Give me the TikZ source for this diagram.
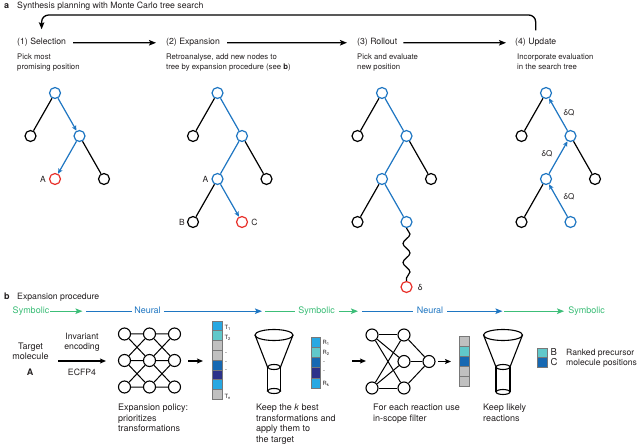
\documentclass[tikz,border=0pt]{standalone}
\usepackage{fontspec}
\setmainfont{TeX Gyre Heros}
\usetikzlibrary{arrows.meta,decorations.pathmorphing}
\definecolor{tblue}{RGB}{30,118,194}
\definecolor{tred}{RGB}{232,48,42}
\definecolor{sgreen}{RGB}{60,190,120}
\definecolor{cyanb}{RGB}{40,168,226}
\definecolor{tealb}{RGB}{96,200,202}
\definecolor{blueb}{RGB}{22,104,178}
\definecolor{navyb}{RGB}{44,50,138}
\definecolor{grayb}{RGB}{192,192,192}
\definecolor{barline}{RGB}{120,120,120}
\definecolor{ink}{RGB}{35,31,32}
\begin{document}
\begin{tikzpicture}[x=1pt,y=-1pt,
  every node/.style={inner sep=0pt,text=ink},
  tn/.style={circle,draw=black,line width=1.2pt,minimum size=11pt,inner sep=0pt},
  tbn/.style={tn,draw=tblue},
  trn/.style={tn,draw=tred},
  ek/.style={draw=black,line width=1.2pt},
  eB/.style={draw=tblue,line width=1.2pt},
  arrtip/.style={-{Stealth[length=5pt,width=4.5pt,inset=1pt]}},
  bigtip/.style={-{Stealth[length=7pt,width=5.5pt,inset=1.5pt]}},
  hd/.style={anchor=base west,font=\fontsize{8.7}{10}\selectfont},
  subt/.style={anchor=north west,align=left,font=\fontsize{7.75}{9.8}\selectfont},
  lab/.style={font=\fontsize{8.5}{10}\selectfont},
  dq/.style={font=\fontsize{8}{10}\selectfont},
  rowt/.style={anchor=base,font=\fontsize{9}{10}\selectfont,text height=6.5pt,text depth=1.9pt},
  gline/.style={draw=sgreen,line width=1.2pt},
  bline/.style={draw=tblue,line width=1.2pt},
  nn/.style={circle,draw=black,line width=1.1pt,minimum size=12pt,inner sep=0pt},
  nl/.style={draw=black,line width=1pt},
  captxt/.style={anchor=north west,align=left,font=\fontsize{9}{10.5}\selectfont},
  cellbox/.style={draw=barline,line width=0.5pt},
  smalllab/.style={anchor=west,font=\fontsize{5.8}{6}\selectfont},
  funl/.style={draw=black,line width=1.1pt},
  sarr/.style={draw=black,line width=1.2pt,-{Stealth[length=6pt,width=5pt,inset=1.2pt]}}
]
\useasboundingbox[fill=white] (0,0) rectangle (640,446);

% ---------- panel a ----------
\node[anchor=base west,font=\bfseries\fontsize{9}{10}\selectfont] (pa) at (4,9) {a};
\node[anchor=base west,font=\fontsize{8.7}{10}\selectfont] (ta) at (17,9) {Synthesis planning with Monte Carlo tree search};

\node[hd] (h1) at (17,45) {(1) Selection};
\node[hd] (h2) at (166,45) {(2) Expansion};
\node[hd] (h3) at (357,45) {(3) Rollout};
\node[hd] (h4) at (515,45) {(4) Update};
\draw[line width=1.3pt,bigtip,shorten <=7pt,shorten >=10pt] (h1.east) -- (h2.west);
\draw[line width=1.3pt,bigtip,shorten <=7pt,shorten >=10pt] (h2.east) -- (h3.west);
\draw[line width=1.3pt,bigtip,shorten <=6pt,shorten >=9pt] (h3.east) -- (h4.west);
\coordinate (fbR) at ([yshift=8pt]h4.north);
\coordinate (fbL) at ([yshift=9pt]h1.north);
\draw[line width=1.3pt,bigtip,rounded corners=7pt] (fbR) -- (fbR |- 0,15) -- (fbL |- 0,15) -- (fbL);

\node[subt] (s1t) at (17,54) {Pick most\\promising position};
\node[subt] (s2t) at (166,54) {Retroanalyse, add new nodes to\\tree by expansion procedure (see \textbf{b})};
\node[subt] (s3t) at (357,54) {Pick and evaluate\\new position};
\node[subt] (s4t) at (517,54) {Incorporate evaluation\\in the search tree};

% tree 1
\node[tbn] (t1r) at (55,93) {};
\node[tn] (t1l) at (30.5,136) {};
\node[tbn] (t1m) at (79.5,136) {};
\node[trn] (t1a) at (55,179) {};
\node[tn] (t1x) at (104,179) {};
\draw[ek] (t1r) -- (t1l);
\draw[eB,arrtip] (t1r) -- (t1m);
\draw[eB,arrtip] (t1m) -- (t1a);
\draw[ek] (t1m) -- (t1x);
\node[lab,anchor=east] (l1a) at ([xshift=-3pt]t1a.west) {A};

% tree 2
\node[tbn] (t2r) at (217.5,93) {};
\node[tn] (t2l) at (193,136) {};
\node[tbn] (t2m) at (242,136) {};
\node[tbn] (t2a) at (217.5,179) {};
\node[tn] (t2x) at (266.5,179) {};
\node[tn] (t2b) at (193,222) {};
\node[trn] (t2c) at (242,222) {};
\draw[ek] (t2r) -- (t2l);
\draw[eB] (t2r) -- (t2m);
\draw[eB] (t2m) -- (t2a);
\draw[ek] (t2m) -- (t2x);
\draw[ek] (t2a) -- (t2b);
\draw[eB,arrtip] (t2a) -- (t2c);
\node[lab,anchor=east] (l2a) at ([xshift=-3pt]t2a.west) {A};
\node[lab,anchor=east] (l2b) at ([xshift=-2pt]t2b.west) {B};
\node[lab,anchor=west] (l2c) at ([xshift=3pt]t2c.east) {C};

% tree 3
\node[tbn] (t3r) at (382,93) {};
\node[tn] (t3l) at (357.5,136) {};
\node[tbn] (t3m) at (406.5,136) {};
\node[tbn] (t3a) at (382,179) {};
\node[tn] (t3x) at (431,179) {};
\node[tn] (t3b) at (357.5,222) {};
\node[tbn] (t3c) at (406.5,222) {};
\node[trn] (t3d) at (406.5,287) {};
\draw[ek] (t3r) -- (t3l);
\draw[eB] (t3r) -- (t3m);
\draw[eB] (t3m) -- (t3a);
\draw[ek] (t3m) -- (t3x);
\draw[ek] (t3a) -- (t3b);
\draw[eB] (t3a) -- (t3c);
\draw[ek,decorate,decoration={snake,amplitude=3.5pt,segment length=19pt}] (t3c.south) -- (t3d.north);
\node[lab,anchor=west] (l3d) at ([xshift=5pt]t3d.east) {δ};

% tree 4
\node[tbn] (t4r) at (546,93) {};
\node[tn] (t4l) at (521.5,136) {};
\node[tbn] (t4m) at (570.5,136) {};
\node[tbn] (t4a) at (546,179) {};
\node[tn] (t4x) at (595,179) {};
\node[tn] (t4b) at (521.5,222) {};
\node[tbn] (t4c) at (570.5,222) {};
\draw[ek] (t4r) -- (t4l);
\draw[eB,arrtip] (t4m) -- (t4r);
\draw[eB,arrtip] (t4a) -- (t4m);
\draw[ek] (t4m) -- (t4x);
\draw[ek] (t4a) -- (t4b);
\draw[eB,arrtip] (t4c) -- (t4a);
\node[dq] (q1) at (569,113) {δQ};
\node[dq] (q2) at (547,154) {δQ};
\node[dq] (q3) at (569,197) {δQ};

% ---------- panel b ----------
\node[anchor=base west,font=\bfseries\fontsize{9}{10}\selectfont] (pb) at (4,300) {b};
\node[anchor=base west,font=\fontsize{8.7}{10}\selectfont] (tpb) at (17,300) {Expansion procedure};

\node[rowt,text=sgreen] (r1) at (31,313.5) {Symbolic};
\node[rowt,text=tblue] (r2) at (147.5,313.5) {Neural};
\node[rowt,text=sgreen] (r3) at (316.5,313.5) {Symbolic};
\node[rowt,text=tblue] (r4) at (430,313.5) {Neural};
\node[rowt,text=sgreen] (r5) at (586.5,313.5) {Symbolic};
\draw[gline,bigtip] ([xshift=1pt]r1.east) -- ++(32,0) coordinate (g1);
\draw[bline] ([xshift=4pt]g1) -- ([xshift=-2pt]r2.west);
\draw[bline,bigtip] ([xshift=3pt]r2.east) -- ++(98,0) coordinate (g2);
\draw[gline] ([xshift=3pt]g2) -- ([xshift=-3pt]r3.west);
\draw[gline,bigtip] ([xshift=4pt]r3.east) -- ++(19,0) coordinate (g3);
\draw[bline] ([xshift=4pt]g3) -- ([xshift=-4pt]r4.west);
\draw[bline,bigtip] ([xshift=4pt]r4.east) -- ++(55,0) coordinate (g4);
\draw[gline,bigtip] ([xshift=2pt]g4) -- ([xshift=-4pt]r5.west);

% target molecule
\node[align=center,font=\fontsize{9}{10.5}\selectfont] (tm) at (30.5,351.5) {Target\\molecule};
\node[font=\bfseries\fontsize{9}{10}\selectfont] (tA) at (30,372) {A};
\node[align=center,font=\fontsize{8.7}{10}\selectfont] (ie) at (82,342.5) {Invariant\\encoding};
\node[font=\fontsize{8.7}{10}\selectfont] (ec) at (82,372) {ECFP4};
\coordinate (ia) at (58,361);
\coordinate (ib) at (106,361);
\draw[sarr] (ia) -- (ib);

% network 1
\foreach \c/\x in {1/124.5,2/149.5,3/174.5}{
  \foreach \r/\y in {1/334,2/360.5,3/387}{
    \node[nn] (a\r\c) at (\x,\y) {};
  }
}
\foreach \c/\d in {1/2,2/3}{
  \draw[nl] (a1\c)--(a1\d) (a2\c)--(a2\d) (a3\c)--(a3\d)
            (a1\c)--(a2\d) (a2\c)--(a1\d) (a2\c)--(a3\d) (a3\c)--(a2\d);
}
\coordinate (na) at (188,361);
\coordinate (nb) at (203,361);
\draw[sarr] (na) -- (nb);

% bar 1
\foreach \col [count=\i from 0] in {cyanb,tealb,grayb,grayb,blueb,navyb,cyanb,grayb}{
  \filldraw[cellbox,fill=\col] (212,321+\i*9.75) rectangle ++(10,9.75);
}
\node[smalllab] (T1) at (224.5,328) {T\textsubscript{1}};
\node[smalllab] (T2) at (224.5,337.5) {T\textsubscript{2}};
\node[smalllab] (d1) at (225,354) {-};
\node[smalllab] (d2) at (225,362.5) {-};
\node[smalllab] (d3) at (225,371) {-};
\node[smalllab] (Tn) at (224.5,397) {T\textsubscript{n}};

% funnel 1
\draw[funl] (274,335) ellipse [x radius=19pt,y radius=5.5pt];
\draw[funl] (255,335) -- (267.5,367) (293,335) -- (280.5,367);
\draw[funl] (274,367) ellipse [x radius=6.5pt,y radius=2.5pt];
\draw[funl] (267.5,367) -- (267.5,391) (280.5,367) -- (280.5,391);
\draw[funl] (274,391) ellipse [x radius=6.5pt,y radius=2.5pt];

% bar 2
\foreach \col [count=\i from 0] in {cyanb,tealb,blueb,navyb,cyanb}{
  \filldraw[cellbox,fill=\col] (311,337+\i*10.2) rectangle ++(9.5,10.2);
}
\node[smalllab] (R1) at (322.5,343) {R\textsubscript{1}};
\node[smalllab] (R2) at (322.5,353) {R\textsubscript{2}};
\node[smalllab] (e1) at (323,362.5) {-};
\node[smalllab] (e2) at (323,372) {-};
\node[smalllab] (Rk) at (322.5,383.5) {R\textsubscript{k}};

\coordinate (ra) at (352,361);
\coordinate (rb) at (366,361);
\draw[sarr] (ra) -- (rb);

% network 2
\node[nn] (b1) at (372,335) {};
\node[nn] (b2) at (372,388) {};
\node[nn] (c1) at (404,335) {};
\node[nn] (c2) at (404,361.5) {};
\node[nn] (c3) at (404,388) {};
\node[nn] (d0) at (429,361.5) {};
\foreach \u in {b1,b2}{
  \foreach \v in {c1,c2,c3}{
    \draw[nl] (\u) -- (\v);
  }
}
\foreach \v in {c1,c2,c3}{ \draw[nl] (\v) -- (d0); }
\coordinate (xa) at (438,361.5);
\coordinate (xb) at (451,361.5);
\draw[sarr] (xa) -- (xb);

% bar 3
\foreach \col [count=\i from 0] in {grayb,tealb,blueb,grayb,grayb}{
  \filldraw[cellbox,fill=\col] (459,336+\i*10) rectangle ++(10,10);
}

% funnel 2
\draw[funl] (503,335) ellipse [x radius=19.5pt,y radius=5.5pt];
\draw[funl] (483.5,335) -- (496,367) (522.5,335) -- (510,367);
\draw[funl] (503,367) ellipse [x radius=7pt,y radius=2.5pt];
\draw[funl] (496,367) -- (496,392) (510,367) -- (510,392);
\draw[funl] (503,392) ellipse [x radius=7pt,y radius=2.5pt];

% legend
\filldraw[cellbox,fill=tealb] (537,348) rectangle (547,357.5);
\filldraw[cellbox,fill=blueb] (537,357.5) rectangle (547,367);
\node[anchor=west,font=\fontsize{9.5}{10}\selectfont] (lB) at (550.5,352.5) {B};
\node[anchor=west,font=\fontsize{9.5}{10}\selectfont] (lC) at (550.5,362.5) {C};
\node[anchor=west,align=left,font=\fontsize{8.6}{10}\selectfont] (lt) at (566,358) {Ranked precursor\\molecule positions};

% captions
\node[captxt] (c1t) at (118,404) {Expansion policy:\\prioritizes\\transformations};
\node[captxt] (c2t) at (256,404) {Keep the \textit{k} best\\transformations and\\apply them to\\the target};
\node[captxt] (c3t) at (373,404) {For each reaction use\\in-scope filter};
\node[captxt] (c4t) at (483,404) {Keep likely\\reactions};
\end{tikzpicture}
\end{document}
